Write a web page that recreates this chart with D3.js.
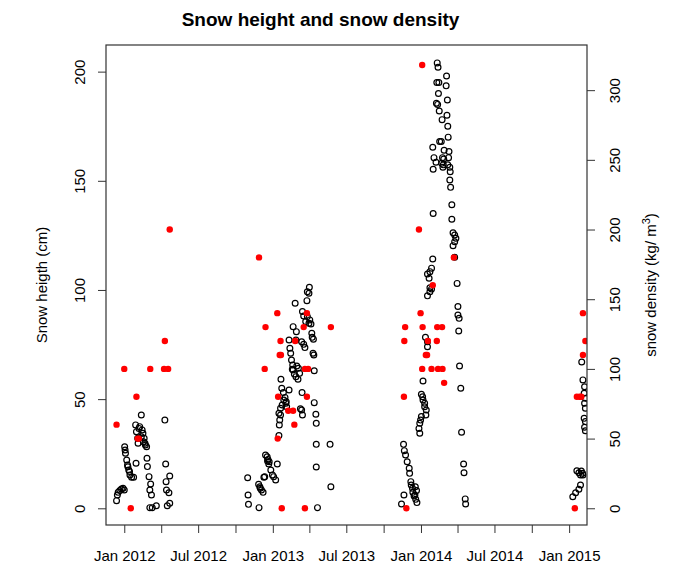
<!DOCTYPE html>
<html><head><meta charset="utf-8">
<script src="https://cdn.jsdelivr.net/npm/d3@7"></script>
<style>
body{margin:0;background:#fff}
svg{display:block}
text{font-family:"Liberation Sans",Arial,Helvetica,sans-serif;fill:#000}
</style>
</head><body>
<svg id="chart" width="677" height="566"></svg>
<script>
// Snow height (cm) — black open circles, left axis
const heightData = [
["2011-12-13",3.5],["2011-12-15",6.1],["2011-12-17",7.3],["2011-12-21",8.1],["2011-12-25",8.8],["2011-12-29",9.2],["2012-01-01",8.4],["2012-01-02",28.2],["2012-01-03",26.7],["2012-01-04",25.2],["2012-01-07",22.1],["2012-01-09",19.8],["2012-01-10",19],["2012-01-12",17.5],["2012-01-14",16.8],["2012-01-15",15.3],["2012-01-19",14.2],["2012-01-24",14.2],["2012-01-29",38.2],["2012-01-31",35.1],["2012-01-30",20.6],["2012-02-03",32.1],["2012-02-04",29.8],["2012-02-06",36.6],["2012-02-08",37.4],["2012-02-12",42.7],["2012-02-12",32.8],["2012-02-14",35.9],["2012-02-16",34.4],["2012-02-17",30.5],["2012-02-19",32.1],["2012-02-21",29.8],["2012-02-22",29],["2012-02-25",28.2],["2012-02-26",22.9],["2012-02-27",19.1],["2012-03-02",14.5],["2012-03-04",8.4],["2012-03-06",11.1],["2012-03-08",6.1],["2012-03-04",0.3],["2012-03-10",0.3],["2012-03-20",1.2],["2012-04-10",40.4],["2012-04-12",20.3],["2012-04-13",12.2],["2012-04-14",8.4],["2012-04-16",1.2],["2012-04-20",7.1],["2012-04-22",14.8],["2012-04-22",2.3],
["2012-10-31",14],["2012-11-01",6.1],["2012-11-02",1.8],["2012-11-28",0.3],["2012-11-27",11],["2012-11-30",9.9],["2012-12-01",9.2],["2012-12-04",8.4],["2012-12-08",7.3],["2012-12-10",14.2],["2012-12-12",14.5],["2012-12-14",24.4],["2012-12-18",23.6],["2012-12-20",22.4],["2012-12-23",21.3],["2012-12-19",21.7],["2012-12-22",20.3],["2012-12-27",17.5],["2012-12-31",15.3],["2013-01-03",14.5],["2013-01-08",13],["2013-01-12",20.3],["2013-01-16",33.3],["2013-01-17",38.2],["2013-01-18",40.4],["2013-01-16",43.5],["2013-01-20",45.8],["2013-01-24",47.3],["2013-01-28",49.6],["2013-02-02",48.1],["2013-02-04",46.5],["2013-01-21",59.1],["2013-01-23",55],["2013-01-27",53],["2013-01-31",50.8],["2013-02-03",48.8],["2013-02-10",54.2],["2013-01-20",42.7],["2013-02-10",77.1],["2013-02-12",73.3],["2013-02-14",71],["2013-02-16",67.9],["2013-02-19",65.6],["2013-02-20",63.4],["2013-02-23",61.5],["2013-02-27",60.3],["2013-03-04",59.1],["2013-03-08",61.8],["2013-03-05",64.1],["2013-03-01",65.2],["2013-02-18",63.7],["2013-02-20",83.2],["2013-02-27",77.1],["2013-02-28",80.9],["2013-02-25",93.9],["2013-03-15",90.1],["2013-03-18",88.1],["2013-03-27",87.8],["2013-03-23",85.5],["2013-04-02",86.3],["2013-03-31",84.7],["2013-04-05",84.4],["2013-03-26",95.1],["2013-03-31",98.5],["2013-03-27",99.2],["2013-04-01",101.2],["2013-03-13",76.3],["2013-03-18",75.1],["2013-03-21",73.6],["2013-04-07",80.2],["2013-04-08",78.3],["2013-04-11",77.4],["2013-04-10",71],["2013-04-12",70.2],["2013-04-13",63],["2013-03-14",53],["2013-03-13",45],["2013-03-10",45.6],["2013-03-15",42.7],["2013-04-13",48.4],["2013-04-17",43.1],["2013-04-18",38.9],["2013-04-18",29.3],["2013-05-22",29.3],["2013-04-18",18.9],["2013-05-24",9.9],["2013-04-21",0.3],
["2014-02-10",204],["2014-02-12",202],["2014-03-05",198],["2014-02-09",195],["2014-02-14",195],["2014-03-04",193.5],["2014-02-13",190],["2014-03-07",187],["2014-02-08",185.5],["2014-02-11",185],["2014-02-15",182],["2014-03-06",180],["2014-02-22",178],["2014-03-08",175],["2014-03-09",170],["2014-02-16",168],["2014-02-20",168],["2014-01-30",165.4],["2014-02-27",164],["2014-03-11",163.4],["2014-02-02",160.6],["2014-02-23",160.6],["2014-02-26",160],["2014-03-10",160.6],["2014-02-07",158.5],["2014-02-21",158],["2014-02-25",157.3],["2014-03-08",157.3],["2014-01-31",155.3],["2014-02-24",156.2],["2014-03-13",156.2],["2014-03-14",154.2],["2014-03-13",150.4],["2014-03-15",147],["2014-03-18",139],["2014-01-31",135],["2014-03-18",132.4],["2014-03-21",126.2],["2014-03-25",125.2],["2014-03-28",123.7],["2014-03-25",122.1],["2014-03-21",120.3],["2014-03-25",115],["2014-01-30",114.2],["2014-01-27",110],["2014-01-23",108.4],["2014-01-17",107.3],["2014-01-21",105.4],["2014-03-31",103],["2014-01-23",101],["2014-01-27",100.5],["2014-01-23",99.2],["2014-01-17",97.3],["2014-04-02",92.4],["2014-04-02",88.5],["2014-04-05",87],["2014-04-04",81.2],["2014-01-12",78.3],["2014-01-17",76.3],["2014-01-17",74],["2014-04-06",65.2],["2014-01-06",58.3],["2014-04-09",55],["2014-01-02",52.2],["2014-01-05",51.1],["2014-01-06",49.6],["2014-01-10",48.1],["2014-01-10",46.5],["2014-01-14",45],["2014-01-13",42.7],["2014-01-02",42],["2013-12-31",40.4],["2013-12-29",38.9],["2013-12-27",36.6],["2013-12-29",34.4],["2014-04-11",34.8],["2013-11-19",29.3],["2013-11-21",26.4],["2013-11-24",24.4],["2013-11-28",21.3],["2013-12-03",18.3],["2013-12-04",16],["2014-04-16",20.3],["2014-04-17",16.3],["2013-12-07",12.2],["2013-12-08",10.7],["2013-12-11",9.2],["2013-12-12",7.3],["2013-12-15",5.6],["2013-12-19",4.1],["2013-12-22",2.6],["2013-12-18",9.9],["2013-12-21",8.1],["2013-12-17",6.1],["2013-11-20",6.1],["2013-11-14",2],["2014-04-20",4.3],["2014-04-21",2],
["2015-01-10",5.3],["2015-01-17",7.1],["2015-01-25",8.7],["2015-01-29",10.7],["2015-01-20",17.2],["2015-01-25",16.3],["2015-01-31",17.1],["2015-02-03",16],["2015-01-29",15.3],["2015-02-04",15.3],["2015-02-07",41.2],["2015-02-10",39.7],["2015-02-08",37.1],["2015-02-10",35.5],["2015-02-04",58.8],["2015-02-08",55.7],["2015-02-07",52.7],["2015-02-10",50.4],["2015-02-08",48.1],["2015-02-10",45.8],["2015-02-01",67]
];

// Snow density (kg/m3) — red filled dots, right axis
const densityData = [
["2011-12-13",60],["2012-01-01",100],["2012-01-17",0],["2012-01-31",80],["2012-02-03",50],["2012-02-06",50],["2012-03-05",100],["2012-04-08",100],["2012-04-10",120],["2012-04-18",100],["2012-04-22",200],
["2012-11-28",180],["2012-12-12",100],["2012-12-14",130],["2013-01-12",140],["2013-01-14",80],["2013-01-13",50],["2013-01-20",120],["2013-01-18",110],["2013-01-21",110],["2013-01-23",0],["2013-02-08",70],["2013-02-20",70],["2013-02-23",60],["2013-02-25",120],["2013-03-26",140],["2013-03-18",130],["2013-03-21",100],["2013-03-29",100],["2013-03-26",80],["2013-03-21",0],["2013-05-24",130],
["2014-01-04",318],["2013-12-27",200],["2014-03-23",180],["2014-01-30",160],["2013-12-31",140],["2013-11-23",130],["2014-01-05",130],["2014-02-10",130],["2014-02-22",130],["2013-11-21",120],["2014-01-18",120],["2014-02-09",120],["2014-01-13",110],["2014-01-16",110],["2014-01-04",100],["2014-01-27",100],["2014-02-12",100],["2014-02-23",100],["2014-02-27",90],["2013-11-20",80],["2013-11-26",0],
["2015-01-15",0],["2015-01-20",80],["2015-01-27",80],["2015-01-31",80],["2015-02-04",110],["2015-02-10",120],["2015-02-04",140]
];

const xTickDates = ["2012-01-01","2012-04-01","2012-07-01","2012-10-01","2013-01-01","2013-04-01","2013-07-01","2013-10-01","2014-01-01","2014-04-01","2014-07-01","2014-10-01","2015-01-01"];
const xTickLabels = ["Jan 2012","","Jul 2012","","Jan 2013","","Jul 2013","","Jan 2014","","Jul 2014","","Jan 2015"];
const heightTicks = [0,50,100,150,200];
const densityTicks = [0,50,100,150,200,250,300];
const xDomain = ["2011-11-17","2015-02-14"];
const heightDomain = [-7.65, 212.2];
const densityDomain = [-12, 332.4];

const parse = d3.timeParse("%Y-%m-%d");
const L = 106, R = 587, T = 45, B = 525;
const svg = d3.select("#chart");

const x = d3.scaleTime().domain(xDomain.map(parse)).range([L, R]);
const yH = d3.scaleLinear().domain(heightDomain).range([B, T]);
const yD = d3.scaleLinear().domain(densityDomain).range([B, T]);

svg.append("defs").append("clipPath").attr("id","clip")
  .append("rect").attr("x",L).attr("y",T).attr("width",R-L).attr("height",B-T);

const plot = svg.append("g").attr("clip-path","url(#clip)");
plot.selectAll("circle.h").data(heightData).join("circle")
  .attr("class","h")
  .attr("cx", d => x(parse(d[0]))).attr("cy", d => yH(d[1]))
  .attr("r", 2.9).attr("fill","none").attr("stroke","#000").attr("stroke-width",1.2);
plot.selectAll("circle.d").data(densityData).join("circle")
  .attr("class","d")
  .attr("cx", d => x(parse(d[0]))).attr("cy", d => yD(d[1]))
  .attr("r", 3.2).attr("fill","#ff0000");

// box
svg.append("rect").attr("x",L).attr("y",T).attr("width",R-L).attr("height",B-T)
  .attr("fill","none").attr("stroke","#333").attr("stroke-width",1.2);

// x axis
const xAxis = svg.append("g").attr("transform",`translate(0,${B})`)
  .call(d3.axisBottom(x).tickValues(xTickDates.map(parse)).tickFormat((d,i)=>xTickLabels[i]).tickSize(8).tickPadding(17));
xAxis.select(".domain").remove();
xAxis.selectAll("line").attr("stroke","#333");
xAxis.selectAll("text").attr("font-size",15).attr("fill","#000");

// left axis
const yAxisL = svg.append("g").attr("transform",`translate(${L},0)`)
  .call(d3.axisLeft(yH).tickValues(heightTicks).tickSize(8));
yAxisL.select(".domain").remove();
yAxisL.selectAll("line").attr("stroke","#333");
yAxisL.selectAll("text").attr("font-size",15).attr("fill","#000")
  .attr("x",null).attr("dy",null).attr("text-anchor","middle")
  .attr("transform","translate(-21,0) rotate(-90)");

// right axis
const yAxisR = svg.append("g").attr("transform",`translate(${R},0)`)
  .call(d3.axisRight(yD).tickValues(densityTicks).tickSize(8));
yAxisR.select(".domain").remove();
yAxisR.selectAll("line").attr("stroke","#333");
yAxisR.selectAll("text").attr("font-size",15).attr("fill","#000")
  .attr("x",null).attr("dy",null).attr("text-anchor","middle")
  .attr("transform","translate(33,0) rotate(-90)");

// titles
svg.append("text").attr("x",320.5).attr("y",26).attr("text-anchor","middle")
  .attr("font-size",19).attr("font-weight","bold").text("Snow height and snow density");
svg.append("text").attr("transform",`translate(47,${(T+B)/2}) rotate(-90)`)
  .attr("text-anchor","middle").attr("font-size",15).text("Snow heigth (cm)");
const rt = svg.append("text").attr("transform",`translate(656,${(T+B)/2}) rotate(-90)`)
  .attr("text-anchor","middle").attr("font-size",15);
rt.append("tspan").text("snow density (kg/ m");
rt.append("tspan").attr("font-size",11).attr("dy",-6).text("3");
rt.append("tspan").attr("dy",6).text(")");
</script>
</body></html>
